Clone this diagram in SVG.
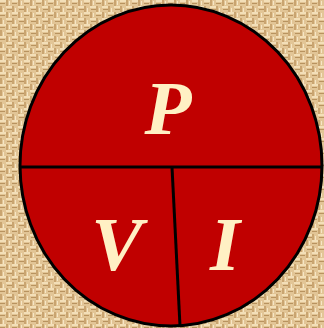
<svg xmlns="http://www.w3.org/2000/svg" width="324" height="328" viewBox="0 0 324 328">
<style>
.lbl{font-family:"Liberation Serif","Times New Roman",serif;font-weight:bold;font-style:italic;font-size:77px;fill:#fff0c4;text-anchor:middle}
.ln{stroke:#000;stroke-width:3;fill:none}
</style>
<defs>
<pattern id="weave" width="12" height="12" patternUnits="userSpaceOnUse">
<rect width="12" height="12" fill="#e2c596"/>
<rect x="0" y="0" width="6" height="2" fill="#f3dfb8"/>
<rect x="6" y="6" width="6" height="2" fill="#f3dfb8"/>
<rect x="6" y="0" width="2" height="6" fill="#c9a470"/>
<rect x="0" y="6" width="2" height="6" fill="#c9a470"/>
<rect x="0" y="3" width="5" height="1" fill="#b8935f"/>
<rect x="7" y="9" width="5" height="1" fill="#b8935f"/>
<rect x="9" y="1" width="1" height="4" fill="#f6e6c6"/>
<rect x="3" y="8" width="1" height="4" fill="#f6e6c6"/>
</pattern>
</defs>
<rect width="324" height="328" fill="url(#weave)"/>
<g id="circle">
<ellipse cx="171" cy="165.5" rx="151" ry="160.5" fill="#c00000" stroke="#000" stroke-width="3"/>
</g>
<g id="connectors">
<line class="ln" x1="20" y1="167" x2="322" y2="167"/>
<line class="ln" x1="172" y1="167" x2="180" y2="326"/>
</g>
<g id="P"><text class="lbl" x="168" y="134">P</text></g>
<g id="V"><text class="lbl" x="117" y="270">V</text></g>
<g id="I"><text class="lbl" x="225" y="270">I</text></g>
</svg>
